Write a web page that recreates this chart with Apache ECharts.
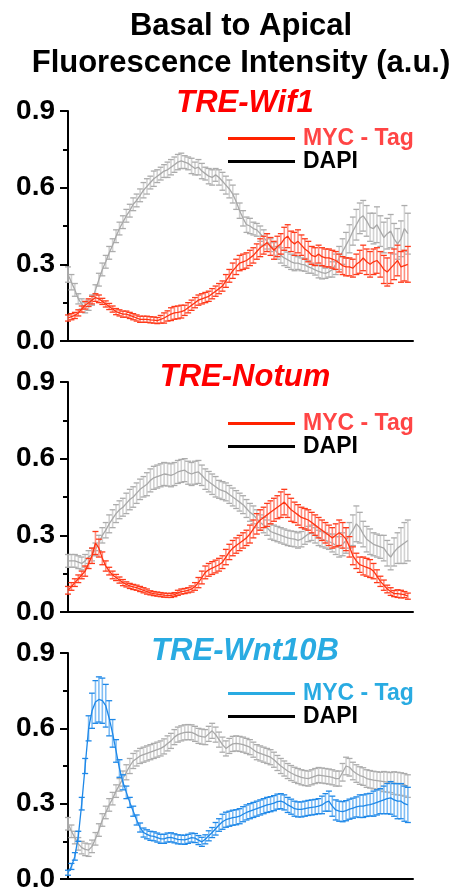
<!DOCTYPE html>
<html>
<head>
<meta charset="utf-8">
<script src="https://cdn.jsdelivr.net/npm/echarts@6/dist/echarts.min.js"></script>
<style>
html,body{margin:0;padding:0;background:#fff;}
#chart{width:455px;height:893px;}
</style>
</head>
<body>
<div id="chart"></div>
<script>
// ---- Data ----
var panelTitles = ['TRE-Wif1', 'TRE-Notum', 'TRE-Wnt10B'];
var seriesNames = ['MYC - Tag', 'DAPI'];
var yTicks = [0.0, 0.3, 0.6, 0.9];

var wif1Dapi = [0.26,0.23,0.20,0.165,0.145,0.13,0.14,0.16,0.20,0.24,
0.28,0.31,0.345,0.375,0.41,0.44,0.465,0.49,0.51,0.535,
0.55,0.57,0.59,0.605,0.62,0.635,0.645,0.655,0.665,0.67,
0.68,0.69,0.70,0.705,0.70,0.695,0.685,0.675,0.68,0.665,
0.655,0.645,0.64,0.65,0.64,0.625,0.61,0.595,0.575,0.545,
0.51,0.48,0.455,0.45,0.44,0.435,0.42,0.405,0.39,0.375,
0.36,0.345,0.335,0.325,0.318,0.31,0.305,0.305,0.30,0.298,
0.29,0.285,0.278,0.272,0.268,0.265,0.27,0.28,0.30,0.325,
0.35,0.375,0.40,0.43,0.455,0.48,0.49,0.47,0.445,0.44,
0.455,0.43,0.405,0.42,0.43,0.40,0.38,0.40,0.44,0.42];
var wif1DapiErr = [0.03,0.03,0.025,0.02,0.02,0.02,0.02,0.02,0.02,0.025,
0.025,0.025,0.025,0.025,0.025,0.025,0.025,0.025,0.025,0.025,
0.025,0.025,0.03,0.03,0.025,0.03,0.025,0.025,0.025,0.03,
0.03,0.03,0.03,0.03,0.025,0.025,0.03,0.025,0.03,0.03,
0.025,0.03,0.03,0.025,0.03,0.035,0.035,0.035,0.035,0.03,
0.03,0.03,0.03,0.03,0.025,0.025,0.03,0.03,0.03,0.025,
0.025,0.025,0.03,0.03,0.03,0.03,0.03,0.025,0.025,0.025,
0.025,0.02,0.02,0.025,0.025,0.02,0.02,0.03,0.04,0.045,
0.05,0.05,0.055,0.055,0.06,0.06,0.06,0.06,0.055,0.06,
0.07,0.06,0.06,0.06,0.065,0.06,0.06,0.07,0.09,0.08];
var wif1Myc = [0.09,0.095,0.10,0.11,0.125,0.14,0.15,0.16,0.17,0.165,
0.155,0.145,0.135,0.125,0.115,0.11,0.105,0.105,0.10,0.095,
0.09,0.085,0.085,0.085,0.083,0.082,0.08,0.085,0.09,0.098,
0.105,0.11,0.112,0.115,0.12,0.13,0.14,0.15,0.16,0.165,
0.17,0.175,0.185,0.195,0.205,0.215,0.235,0.255,0.275,0.29,
0.305,0.31,0.315,0.325,0.335,0.35,0.365,0.375,0.385,0.37,
0.355,0.37,0.38,0.40,0.41,0.39,0.38,0.39,0.375,0.36,
0.35,0.335,0.33,0.34,0.33,0.325,0.325,0.32,0.315,0.305,
0.295,0.29,0.29,0.285,0.30,0.31,0.325,0.31,0.30,0.31,
0.315,0.30,0.28,0.27,0.285,0.30,0.315,0.29,0.295,0.30];
var wif1MycErr = [0.012,0.012,0.012,0.012,0.012,0.015,0.015,0.015,0.015,0.015,
0.012,0.012,0.012,0.012,0.012,0.012,0.012,0.012,0.012,0.012,
0.012,0.012,0.012,0.012,0.012,0.012,0.012,0.015,0.02,0.02,
0.025,0.025,0.025,0.025,0.02,0.02,0.02,0.02,0.02,0.02,
0.02,0.02,0.02,0.02,0.02,0.02,0.025,0.025,0.03,0.03,
0.03,0.03,0.03,0.03,0.03,0.03,0.035,0.035,0.035,0.035,
0.035,0.04,0.04,0.045,0.045,0.04,0.045,0.045,0.04,0.04,
0.04,0.035,0.035,0.035,0.035,0.035,0.035,0.035,0.035,0.035,
0.035,0.035,0.035,0.035,0.04,0.045,0.05,0.05,0.05,0.05,
0.05,0.05,0.055,0.055,0.06,0.06,0.06,0.06,0.06,0.07];

var notumDapi = [0.20,0.20,0.20,0.195,0.19,0.20,0.215,0.225,0.245,0.27,
0.30,0.32,0.345,0.365,0.385,0.40,0.41,0.425,0.44,0.45,
0.465,0.48,0.49,0.50,0.515,0.525,0.53,0.535,0.54,0.538,
0.535,0.54,0.548,0.552,0.555,0.545,0.54,0.545,0.548,0.535,
0.52,0.51,0.50,0.49,0.48,0.475,0.47,0.46,0.45,0.44,
0.43,0.42,0.405,0.39,0.38,0.365,0.35,0.34,0.33,0.315,
0.31,0.305,0.30,0.295,0.29,0.287,0.285,0.28,0.285,0.295,
0.305,0.31,0.30,0.29,0.285,0.28,0.275,0.27,0.26,0.255,
0.265,0.28,0.30,0.32,0.345,0.33,0.305,0.285,0.275,0.265,
0.26,0.255,0.25,0.23,0.215,0.235,0.25,0.26,0.27,0.28];
var notumDapiErr = [0.025,0.025,0.025,0.025,0.025,0.025,0.025,0.025,0.025,0.03,
0.03,0.03,0.035,0.035,0.035,0.035,0.035,0.04,0.04,0.04,
0.04,0.04,0.04,0.045,0.045,0.045,0.045,0.045,0.045,0.045,
0.045,0.045,0.045,0.045,0.045,0.045,0.045,0.045,0.045,0.04,
0.04,0.04,0.04,0.04,0.035,0.035,0.035,0.035,0.035,0.035,
0.035,0.035,0.035,0.035,0.035,0.035,0.03,0.03,0.03,0.03,
0.03,0.03,0.03,0.03,0.03,0.03,0.03,0.03,0.03,0.03,
0.03,0.03,0.03,0.03,0.03,0.03,0.03,0.035,0.035,0.04,
0.045,0.05,0.05,0.06,0.07,0.06,0.05,0.05,0.05,0.045,
0.045,0.045,0.05,0.05,0.05,0.055,0.06,0.07,0.08,0.08];
var notumMyc = [0.085,0.10,0.115,0.13,0.145,0.16,0.19,0.22,0.27,0.25,
0.21,0.18,0.16,0.145,0.135,0.125,0.115,0.108,0.102,0.098,
0.095,0.09,0.085,0.08,0.075,0.072,0.07,0.068,0.066,0.065,
0.065,0.068,0.075,0.08,0.082,0.085,0.09,0.10,0.115,0.135,
0.155,0.165,0.172,0.178,0.185,0.195,0.215,0.235,0.25,0.26,
0.27,0.28,0.29,0.305,0.325,0.345,0.36,0.37,0.38,0.39,
0.40,0.41,0.42,0.43,0.415,0.40,0.39,0.38,0.37,0.365,
0.36,0.35,0.34,0.33,0.32,0.31,0.30,0.29,0.30,0.31,
0.30,0.285,0.255,0.22,0.20,0.185,0.18,0.175,0.17,0.16,
0.14,0.12,0.105,0.09,0.08,0.072,0.072,0.07,0.068,0.062];
var notumMycErr = [0.015,0.015,0.015,0.015,0.015,0.02,0.02,0.03,0.045,0.035,
0.025,0.02,0.015,0.015,0.012,0.012,0.012,0.01,0.01,0.01,
0.01,0.01,0.01,0.01,0.008,0.008,0.008,0.008,0.008,0.008,
0.008,0.008,0.01,0.01,0.01,0.01,0.012,0.015,0.02,0.025,
0.025,0.025,0.025,0.025,0.025,0.025,0.03,0.03,0.03,0.03,
0.03,0.03,0.03,0.035,0.035,0.04,0.04,0.04,0.045,0.045,
0.045,0.045,0.05,0.05,0.045,0.045,0.04,0.04,0.04,0.04,
0.04,0.04,0.04,0.04,0.04,0.04,0.04,0.04,0.045,0.05,
0.05,0.045,0.04,0.035,0.03,0.03,0.035,0.035,0.035,0.03,
0.025,0.02,0.02,0.015,0.015,0.012,0.015,0.015,0.012,0.012];

var wntDapi = [0.22,0.19,0.165,0.14,0.125,0.118,0.115,0.13,0.16,0.195,
0.235,0.265,0.295,0.32,0.35,0.375,0.40,0.425,0.45,0.47,
0.48,0.49,0.495,0.50,0.505,0.51,0.515,0.52,0.528,0.54,
0.55,0.565,0.575,0.58,0.584,0.585,0.584,0.578,0.57,0.567,
0.565,0.578,0.59,0.575,0.555,0.535,0.52,0.53,0.538,0.54,
0.538,0.535,0.53,0.525,0.515,0.505,0.50,0.495,0.49,0.485,
0.475,0.462,0.45,0.44,0.43,0.422,0.415,0.41,0.405,0.402,
0.40,0.405,0.41,0.414,0.412,0.41,0.408,0.405,0.40,0.40,
0.425,0.45,0.445,0.43,0.42,0.412,0.408,0.40,0.397,0.394,
0.392,0.39,0.388,0.386,0.384,0.382,0.38,0.378,0.375,0.37];
var wntDapiErr = [0.025,0.025,0.025,0.025,0.025,0.025,0.025,0.025,0.025,0.025,
0.025,0.025,0.025,0.025,0.025,0.025,0.03,0.03,0.03,0.03,
0.03,0.03,0.03,0.03,0.03,0.03,0.03,0.03,0.03,0.03,
0.03,0.03,0.03,0.03,0.03,0.03,0.03,0.03,0.03,0.03,
0.03,0.03,0.03,0.03,0.03,0.03,0.03,0.03,0.03,0.03,
0.03,0.03,0.03,0.03,0.03,0.03,0.03,0.03,0.03,0.03,
0.03,0.03,0.03,0.03,0.03,0.03,0.03,0.03,0.03,0.03,
0.03,0.03,0.03,0.03,0.03,0.03,0.03,0.03,0.03,0.03,
0.035,0.035,0.035,0.035,0.035,0.035,0.035,0.035,0.035,0.035,
0.035,0.035,0.04,0.04,0.04,0.045,0.045,0.045,0.045,0.045];
var wntMyc = [0.025,0.05,0.09,0.17,0.30,0.45,0.60,0.67,0.705,0.715,
0.71,0.69,0.64,0.58,0.51,0.44,0.385,0.345,0.305,0.27,
0.235,0.205,0.185,0.178,0.172,0.17,0.165,0.16,0.16,0.165,
0.166,0.162,0.158,0.157,0.156,0.16,0.165,0.163,0.155,0.148,
0.158,0.172,0.185,0.20,0.215,0.228,0.236,0.24,0.244,0.246,
0.25,0.258,0.265,0.27,0.275,0.28,0.285,0.29,0.295,0.298,
0.302,0.308,0.31,0.305,0.295,0.288,0.28,0.277,0.277,0.28,
0.283,0.285,0.287,0.29,0.295,0.305,0.31,0.29,0.275,0.27,
0.268,0.272,0.278,0.282,0.287,0.29,0.29,0.294,0.296,0.30,
0.305,0.31,0.315,0.32,0.323,0.315,0.31,0.31,0.30,0.295];
var wntMycErr = [0.01,0.012,0.015,0.02,0.025,0.03,0.05,0.07,0.085,0.09,
0.09,0.085,0.07,0.055,0.045,0.035,0.03,0.025,0.02,0.02,
0.02,0.018,0.018,0.018,0.018,0.018,0.018,0.018,0.018,0.018,
0.018,0.018,0.018,0.018,0.018,0.018,0.018,0.018,0.018,0.018,
0.018,0.02,0.02,0.025,0.025,0.03,0.03,0.03,0.03,0.03,
0.03,0.03,0.03,0.03,0.03,0.03,0.03,0.03,0.03,0.03,
0.03,0.03,0.03,0.03,0.03,0.03,0.03,0.03,0.03,0.03,
0.03,0.03,0.03,0.03,0.035,0.035,0.04,0.04,0.04,0.04,
0.04,0.04,0.04,0.04,0.04,0.045,0.045,0.045,0.045,0.05,
0.05,0.05,0.055,0.06,0.065,0.065,0.07,0.07,0.07,0.07];

// ---- Styling ----
var FONT = '"Liberation Sans", Arial, Helvetica, sans-serif';
var panelColors = [
  {title:'#ff0000', legLine:'#ff2200', legText:'#ff4545', line:'#ff3311', bar:'#ff3a1a', barLight:'#ff8f80'},
  {title:'#ff0000', legLine:'#ff2200', legText:'#ff4545', line:'#ff3311', bar:'#ff3a1a', barLight:'#ff8f80'},
  {title:'#29abe2', legLine:'#29abe2', legText:'#29abe2', line:'#1e88e8', bar:'#1e88e8', barLight:'#80bdf4'}
];
var grayLine = '#a8a8a8', grayBar = '#acacac', grayBarLight = '#d2d2d2';
var gridTops = [111, 382, 653];
var gridH = 230;

var panels = [
  {dapi: wif1Dapi, dapiErr: wif1DapiErr, myc: wif1Myc, mycErr: wif1MycErr},
  {dapi: notumDapi, dapiErr: notumDapiErr, myc: notumMyc, mycErr: notumMycErr},
  {dapi: wntDapi, dapiErr: wntDapiErr, myc: wntMyc, mycErr: wntMycErr}
];

function toPairs(vals){ return vals.map(function(v,i){ return [i, v]; }); }
function toErr(vals, errs){ return vals.map(function(v,i){ return [i, v, errs[i]]; }); }

function errRender(capColor, stemColor){
  return function(params, api){
    var x = api.value(0), m = api.value(1), e = api.value(2);
    var hi = api.coord([x, m + e]);
    var lo = api.coord([x, m - e]);
    var w = 3;
    return {
      type: 'group',
      children: [
        {type:'line', shape:{x1:hi[0], y1:hi[1], x2:lo[0], y2:lo[1]}, style:{stroke:stemColor, lineWidth:1.6}},
        {type:'line', shape:{x1:hi[0]-w, y1:hi[1], x2:hi[0]+w, y2:hi[1]}, style:{stroke:capColor, lineWidth:1.3}},
        {type:'line', shape:{x1:lo[0]-w, y1:lo[1], x2:lo[0]+w, y2:lo[1]}, style:{stroke:capColor, lineWidth:1.3}}
      ]
    };
  };
}

var grids = [], xAxes = [], yAxes = [], series = [], legends = [], titles = [];

titles.push({
  text: 'Basal to Apical\nFluorescence Intensity (a.u.)',
  left: 236, top: 3, textAlign: 'center',
  textStyle: {fontFamily: FONT, fontSize: 31, fontWeight: 'bold', color: '#000', lineHeight: 37}
});

var legendTops = [127, 412, 682];
var titleCenters = [98, 372, 646];

panels.forEach(function(p, k){
  var c = panelColors[k];
  grids.push({left: 68, top: gridTops[k], width: 345, height: gridH, containLabel: false});
  xAxes.push({
    type: 'value', gridIndex: k, min: 0, max: 100.5,
    axisLine: {show: true, onZero: false, lineStyle: {color: '#000', width: 2}},
    axisTick: {show: false}, axisLabel: {show: false}, splitLine: {show: false}
  });
  yAxes.push({
    type: 'value', gridIndex: k, min: 0, max: 0.9, interval: 0.3,
    axisLine: {show: true, lineStyle: {color: '#000', width: 2}},
    axisTick: {show: true, length: 8, lineStyle: {color: '#000', width: 2}},
    minorTick: {show: true, splitNumber: 2, length: 5, lineStyle: {color: '#000', width: 2}},
    axisLabel: {margin: 13, fontFamily: FONT, fontSize: 28, fontWeight: 'bold', color: '#000',
      formatter: function(v){ return v.toFixed(1); }},
    splitLine: {show: false}, minorSplitLine: {show: false}
  });
  titles.push({
    text: panelTitles[k], left: 240, top: titleCenters[k] - 16, textAlign: 'center',
    textStyle: {fontFamily: FONT, fontSize: 31, fontWeight: 'bold', fontStyle: 'italic', color: c.title, lineHeight: 32}
  });
  legends.push({
    left: 228, top: legendTops[k], orient: 'vertical', itemGap: 0, padding: 0,
    itemWidth: 67, itemHeight: 3, icon: 'rect', selectedMode: false,
    textStyle: {fontFamily: FONT, fontSize: 23, fontWeight: 'bold', lineHeight: 21, padding: [0,0,0,3]},
    data: [
      {name: seriesNames[0], icon: 'rect', itemStyle: {color: c.legLine}, textStyle: {color: c.legText}},
      {name: seriesNames[1], icon: 'rect', itemStyle: {color: '#000'}, textStyle: {color: '#000'}}
    ]
  });
  series.push({
    type: 'custom', name: 'DAPI-err', xAxisIndex: k, yAxisIndex: k,
    renderItem: errRender(grayBar, grayBarLight), data: toErr(p.dapi, p.dapiErr),
    encode: {x: 0, y: 1}, silent: true, z: 2, clip: false
  });
  series.push({
    type: 'line', name: seriesNames[1], xAxisIndex: k, yAxisIndex: k,
    data: toPairs(p.dapi), showSymbol: false, symbol: 'none',
    lineStyle: {color: grayLine, width: 1.3}, itemStyle: {color: '#000'}, z: 3, silent: true
  });
  series.push({
    type: 'custom', name: 'MYC-err', xAxisIndex: k, yAxisIndex: k,
    renderItem: errRender(c.bar, c.barLight), data: toErr(p.myc, p.mycErr),
    encode: {x: 0, y: 1}, silent: true, z: 4, clip: false
  });
  series.push({
    type: 'line', name: seriesNames[0], xAxisIndex: k, yAxisIndex: k,
    data: toPairs(p.myc), showSymbol: false, symbol: 'none',
    lineStyle: {color: c.line, width: 1.3}, itemStyle: {color: c.legLine}, z: 5, silent: true
  });
});

var chart = echarts.init(document.getElementById('chart'), null, {renderer: 'canvas'});
chart.setOption({
  animation: false,
  backgroundColor: '#fff',
  title: titles,
  grid: grids,
  xAxis: xAxes,
  yAxis: yAxes,
  legend: legends,
  series: series
});
</script>
</body>
</html>
